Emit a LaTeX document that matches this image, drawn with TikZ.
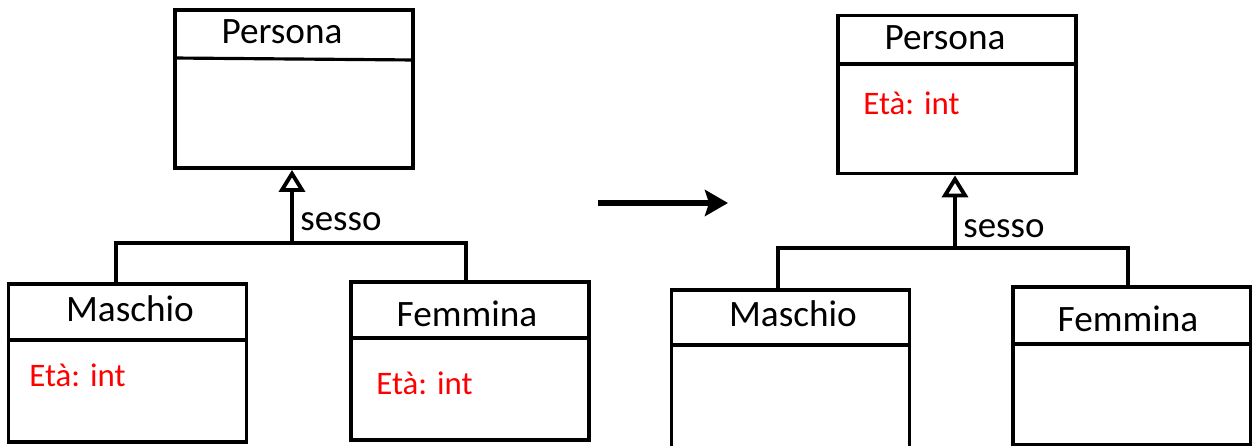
\documentclass[tikz,border=0pt]{standalone}
\usepackage{fontspec}
\setmainfont{Carlito}
\usetikzlibrary{arrows.meta}
\begin{document}
\begin{tikzpicture}[x=0.02cm,y=-0.02cm,
  ln/.style={line width=2.2pt},
  dv/.style={line width=1.8pt},
  umlbox/.style={draw, ln, rectangle, inner sep=0pt, minimum width=4.76cm, minimum height=3.16cm},
  title/.style={font=\fontsize{21.2}{24}\selectfont, anchor=base, inner sep=0pt},
  attr/.style={font=\fontsize{18.7}{22}\selectfont, text=red, anchor=base west, inner sep=0pt},
  lab/.style={font=\fontsize{21}{24}\selectfont, anchor=base west, inner sep=0pt},
  gen/.style={ln, -{Triangle[open, width=0.52cm, length=0.44cm]}},
  bigarrow/.style={line width=0.14cm, -{Stealth[length=0.46cm, width=0.52cm, inset=0.08cm]}}
]
\useasboundingbox (0,0) rectangle (1252,446);
% ---------- left diagram ----------
\node[umlbox] (pL) at (294,89) {};
\draw[dv] (pL.west |- 0,58) -- (pL.east |- 0,60);
\node[title] (pLt) at (282,44) {Persona};

\node[umlbox] (mL) at (127.5,363) {};
\draw[dv] (mL.west |- 0,340) -- (mL.east |- 0,340);
\node[title] (mLt) at (130,321) {Maschio};
\node[attr] (mLa) at (29,386) {Età: int};

\node[umlbox] (fL) at (470,361) {};
\draw[dv] (fL.west |- 0,338) -- (fL.east |- 0,338);
\node[title] (fLt) at (467,326) {Femmina};
\node[attr] (fLa) at (376,394) {Età: int};

\coordinate (jL) at (292,243);
\coordinate (jLm) at (116,243);
\coordinate (jLf) at (466,243);
\draw[ln] (mL.north -| jLm) -- (jLm) -- (jLf) -- (fL.north -| jLf);
\draw[gen] (jL) -- (pL.south -| jL);
\node[lab] (sL) at (300,231) {sesso};

% ---------- transformation arrow ----------
\coordinate (aS) at (598,203);
\coordinate (aE) at (728,203);
\draw[bigarrow] (aS) -- (aE);

% ---------- right diagram ----------
\node[umlbox] (pR) at (957,94.5) {};
\draw[dv] (pR.west |- 0,64) -- (pR.east |- 0,64);
\node[title] (pRt) at (945,50) {Persona};
\node[attr] (pRa) at (863,115) {Età: int};

\node[umlbox] (mR) at (790.5,369) {};
\draw[dv] (mR.west |- 0,345) -- (mR.east |- 0,345);
\node[title] (mRt) at (793,326) {Maschio};

\node[umlbox] (fR) at (1132,366) {};
\draw[dv] (fR.west |- 0,344) -- (fR.east |- 0,344);
\node[title] (fRt) at (1128,331) {Femmina};

\coordinate (jR) at (955,248);
\coordinate (jRm) at (778,248);
\coordinate (jRf) at (1128,248);
\draw[ln] (mR.north -| jRm) -- (jRm) -- (jRf) -- (fR.north -| jRf);
\draw[gen] (jR) -- (pR.south -| jR);
\node[lab] (sR) at (963,237) {sesso};
\end{tikzpicture}
\end{document}
